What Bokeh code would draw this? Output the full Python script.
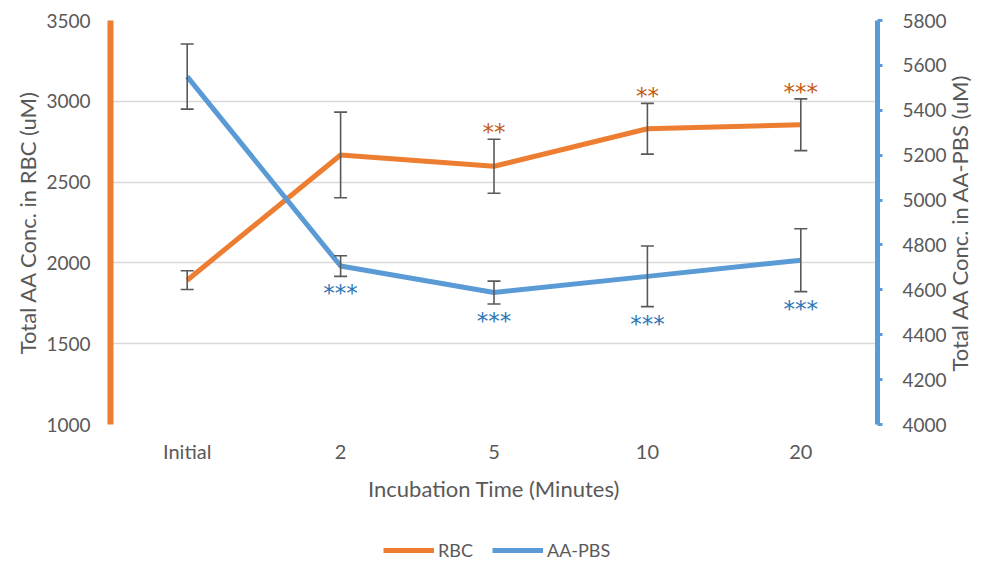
import math
from bokeh.plotting import figure
from bokeh.layouts import column
from bokeh.models import (ColumnDataSource, Range1d, LinearAxis, FixedTicker, Whisker,
                          TeeHead, Legend, LegendItem, Label)
from bokeh.core.properties import value
from bokeh.embed import file_html
from bokeh.resources import INLINE

categories = ["Initial", "2", "5", "10", "20"]
rbc_mean = [1893, 2668, 2598, 2830, 2855]
rbc_err = [58, 265, 167, 157, 160]
pbs_mean = [5550, 4706, 4588, 4660, 4732]
pbs_err = [145, 46, 51, 135, 140]
rbc_sig = ["", "", "**", "**", "***"]
pbs_sig = ["", "***", "***", "***", "***"]
left_ticks = [1000, 1500, 2000, 2500, 3000, 3500]
right_ticks = [4000, 4200, 4400, 4600, 4800, 5000, 5200, 5400, 5600, 5800]
series_names = ["RBC", "AA-PBS"]

ORANGE = "#ED7D31"
BLUE = "#5B9BD5"
GRAY = "#595959"
FONT = "Lato"

rbc = ColumnDataSource(dict(x=categories, y=rbc_mean,
                            up=[m + e for m, e in zip(rbc_mean, rbc_err)],
                            lo=[m - e for m, e in zip(rbc_mean, rbc_err)],
                            sig=rbc_sig))
pbs = ColumnDataSource(dict(x=categories, y=pbs_mean,
                            up=[m + e for m, e in zip(pbs_mean, pbs_err)],
                            lo=[m - e for m, e in zip(pbs_mean, pbs_err)],
                            sig=pbs_sig))

p = figure(x_range=categories, y_range=Range1d(1000, 3500),
           frame_width=767, frame_height=404,
           min_border_left=110, min_border_right=99, min_border_top=20, min_border_bottom=106,
           output_backend="svg", toolbar_location=None, outline_line_color=None)
p.extra_y_ranges = {"pbs": Range1d(4000, 5800)}

p.xgrid.grid_line_color = None
p.ygrid.grid_line_color = "#D9D9D9"
p.ygrid.grid_line_width = 1.3

ya = p.yaxis[0]
ya.ticker = FixedTicker(ticks=left_ticks)
ya.axis_line_color = ORANGE
ya.axis_line_width = 6
ya.major_tick_line_color = None
ya.minor_tick_line_color = None
ya.major_label_standoff = 14
ya.major_label_text_font = FONT
ya.major_label_text_font_size = "19px"
ya.major_label_text_color = GRAY
ya.axis_label = "Total AA Conc. in RBC (uM)"
ya.axis_label_text_font = FONT
ya.axis_label_text_font_size = "22px"
ya.axis_label_text_font_style = "normal"
ya.axis_label_text_color = GRAY
ya.axis_label_standoff = 2

ra = LinearAxis(y_range_name="pbs", ticker=FixedTicker(ticks=right_ticks))
ra.axis_line_color = BLUE
ra.axis_line_width = 5
ra.major_tick_line_color = BLUE
ra.major_tick_line_width = 3
ra.major_tick_out = 5
ra.major_tick_in = 0
ra.minor_tick_line_color = None
ra.major_label_standoff = 20
ra.major_label_text_font = FONT
ra.major_label_text_font_size = "19px"
ra.major_label_text_color = GRAY
p.add_layout(ra, "right")

right_title = Label(x=10, y=202, x_units="screen", y_units="screen", angle=math.pi / 2,
                    text="Total AA Conc. in AA-PBS (uM)", text_font=FONT, text_font_size="22px",
                    text_color=GRAY, text_align="center", text_baseline="middle")
p.add_layout(right_title, "right")

xa = p.xaxis[0]
xa.axis_line_color = None
xa.major_tick_line_color = None
xa.minor_tick_line_color = None
xa.major_label_standoff = 8
xa.major_label_text_font = FONT
xa.major_label_text_font_size = "20px"
xa.major_label_text_color = GRAY
xa.axis_label = "Incubation Time (Minutes)"
xa.axis_label_text_font = FONT
xa.axis_label_text_font_size = "22px"
xa.axis_label_text_font_style = "normal"
xa.axis_label_text_color = GRAY
xa.axis_label_standoff = 9

for src, rng in ((rbc, "default"), (pbs, "pbs")):
    w = Whisker(source=src, base="x", upper="up", lower="lo", dimension="height",
                y_range_name=rng, line_color=GRAY, line_width=1.6, level="glyph",
                upper_head=TeeHead(size=13, line_color=GRAY, line_width=1.6),
                lower_head=TeeHead(size=13, line_color=GRAY, line_width=1.6))
    p.add_layout(w)

p.line("x", "y", source=rbc, line_color=ORANGE, line_width=5, line_join="round")
p.line("x", "y", source=pbs, line_color=BLUE, line_width=5, line_join="round",
       y_range_name="pbs")

p.text("x", "up", text="sig", source=rbc, text_font=value("DejaVu Sans"), text_font_size="23px",
       text_color="#C55A11", text_align="center", text_baseline="middle", y_offset=-7)
p.text("x", "lo", text="sig", source=pbs, text_font=value("DejaVu Sans"), text_font_size="23px",
       text_color="#2E75B6", text_align="center", text_baseline="middle", y_offset=17,
       y_range_name="pbs")

# legend strip below the chart (series drawn out of view, only their legend glyphs show)
q = figure(width=984, height=33, x_range=categories, y_range=Range1d(0, 1),
           x_axis_location=None, y_axis_location=None,
           min_border=0, output_backend="svg", toolbar_location=None, outline_line_color=None)
q.grid.visible = False
k1 = q.line("x", "y", source=rbc, line_color=ORANGE, line_width=5)
k2 = q.line("x", "y", source=pbs, line_color=BLUE, line_width=5)
legend = Legend(items=[LegendItem(label=series_names[0], renderers=[k1]),
                       LegendItem(label=series_names[1], renderers=[k2])],
                orientation="horizontal", location=(273, 2),
                glyph_width=51, glyph_height=20, label_standoff=4, spacing=19,
                padding=0, margin=0, border_line_color=None, background_fill_alpha=0,
                label_text_font=FONT, label_text_font_size="18px", label_text_color=GRAY)
q.add_layout(legend, "center")

layout = column(p, q, spacing=0)
open("out.html", "w").write(file_html(layout, INLINE))
